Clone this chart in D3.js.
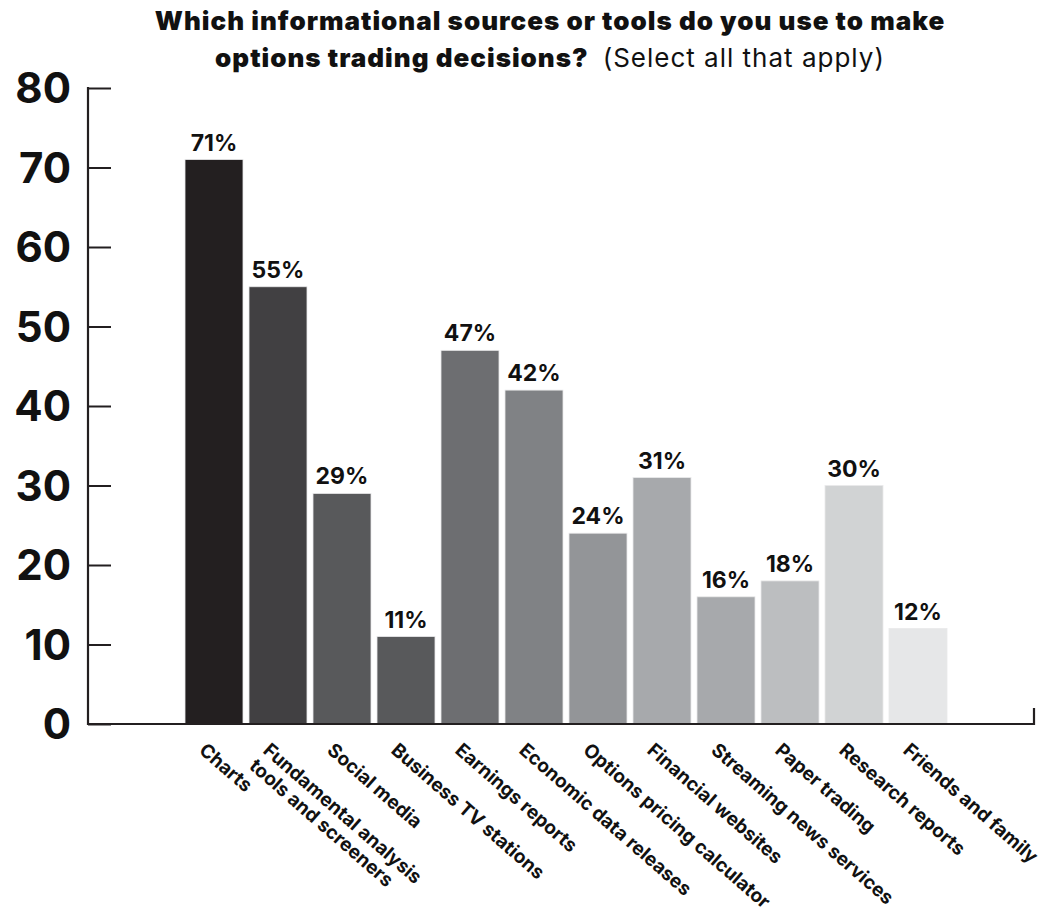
<!DOCTYPE html>
<html>
<head>
<meta charset="utf-8">
<script src="https://cdn.jsdelivr.net/npm/d3@7"></script>
<style>
  html, body { margin: 0; padding: 0; background: #ffffff; }
  svg { display: block; }
  text { font-family: Inter, "Open Sans", sans-serif; fill: #111111; }
</style>
</head>
<body>
<svg id="chart" width="1049" height="913"></svg>
<script>
// Survey: informational sources / tools used for options trading decisions
const categories = [
  ["Charts"],
  ["Fundamental analysis", "tools and screeners"],
  ["Social media"],
  ["Business TV stations"],
  ["Earnings reports"],
  ["Economic data releases"],
  ["Options pricing calculator"],
  ["Financial websites"],
  ["Streaming news services"],
  ["Paper trading"],
  ["Research reports"],
  ["Friends and family"]
];
const values = [71, 55, 29, 11, 47, 42, 24, 31, 16, 18, 30, 12];
const barColors = ["#231f20", "#414042", "#58595b", "#58595b", "#6d6e71", "#808285",
                   "#939598", "#a7a9ac", "#a7a9ac", "#bcbec0", "#d1d3d4", "#e6e7e8"];
const yTicks = [0, 10, 20, 30, 40, 50, 60, 70, 80];
const titleLine1 = "Which informational sources or tools do you use to make";
const titleLine2Bold = "options trading decisions?";
const titleLine2Note = "(Select all that apply)";

const svg = d3.select("#chart");
const ink = "#231f20";

const axisLeftX = 88, axisRightX = 1034;
const baseY = 724, topY = 88;

const keys = categories.map(c => c.join(" "));
const x = d3.scaleBand().domain(keys).range([182, 950]).paddingInner(0.094).paddingOuter(0.047);
const y = d3.scaleLinear().domain([0, 80]).range([baseY, topY]);

// Title
const titleStyle = sel => sel.style("font-size", "26px").style("letter-spacing", "1px");
svg.append("text").attr("text-anchor", "middle").attr("x", 550).attr("y", 30)
  .call(titleStyle).style("font-weight", 900).text(titleLine1);
const t2 = svg.append("text").attr("text-anchor", "middle").attr("x", 550).attr("y", 67)
  .call(titleStyle);
t2.append("tspan").style("font-weight", 900).text(titleLine2Bold);
t2.append("tspan").style("font-weight", 400).attr("dx", 14).text(titleLine2Note);

// Bars
svg.append("g").selectAll("rect").data(values).join("rect")
  .attr("x", (d, i) => x(keys[i]))
  .attr("width", x.bandwidth())
  .attr("y", d => y(d))
  .attr("height", d => y(0) - y(d))
  .attr("fill", (d, i) => barColors[i])
  .attr("stroke", "#e9e9ea")
  .attr("stroke-width", 0.8);

// Value labels
svg.append("g").selectAll("text").data(values).join("text")
  .attr("x", (d, i) => x(keys[i]) + x.bandwidth() / 2)
  .attr("y", d => y(d) - 9)
  .attr("text-anchor", "middle")
  .style("font-size", "23px").style("font-weight", 700)
  .text(d => d + "%");

// Y axis: ticks point inward, labels set large on the left
const yAxis = d3.axisRight(y).tickValues(yTicks).tickSize(23).tickFormat("");
const gy = svg.append("g").attr("transform", `translate(${axisLeftX},0)`).call(yAxis);
gy.select(".domain").remove();
gy.selectAll(".tick line").attr("stroke", ink).attr("stroke-width", 2);
svg.append("line").attr("x1", axisLeftX).attr("x2", axisLeftX)
  .attr("y1", y(80) - 1).attr("y2", baseY + 1)
  .attr("stroke", ink).attr("stroke-width", 2.2);
svg.append("g").selectAll("text").data(yTicks).join("text")
  .attr("x", 71).attr("y", d => y(d))
  .attr("dy", "0.36em")
  .attr("text-anchor", "end")
  .style("font-size", "42px").style("font-weight", 700)
  .text(d => d);

// X axis baseline with end cap
svg.append("path")
  .attr("d", `M${axisLeftX},${baseY}H${axisRightX}V${baseY - 16}`)
  .attr("fill", "none").attr("stroke", ink).attr("stroke-width", 2.2);

// Rotated category labels
const xl = svg.append("g").selectAll("g").data(categories).join("g")
  .attr("transform", (d, i) => `translate(${x(keys[i]) + 13},${baseY + 28}) rotate(41)`);
xl.append("text")
  .style("font-size", "19px").style("font-weight", 700)
  .selectAll("tspan").data(d => d).join("tspan")
  .attr("x", 0)
  .attr("y", (d, j) => j * 21)
  .text(d => d);
</script>
</body>
</html>
